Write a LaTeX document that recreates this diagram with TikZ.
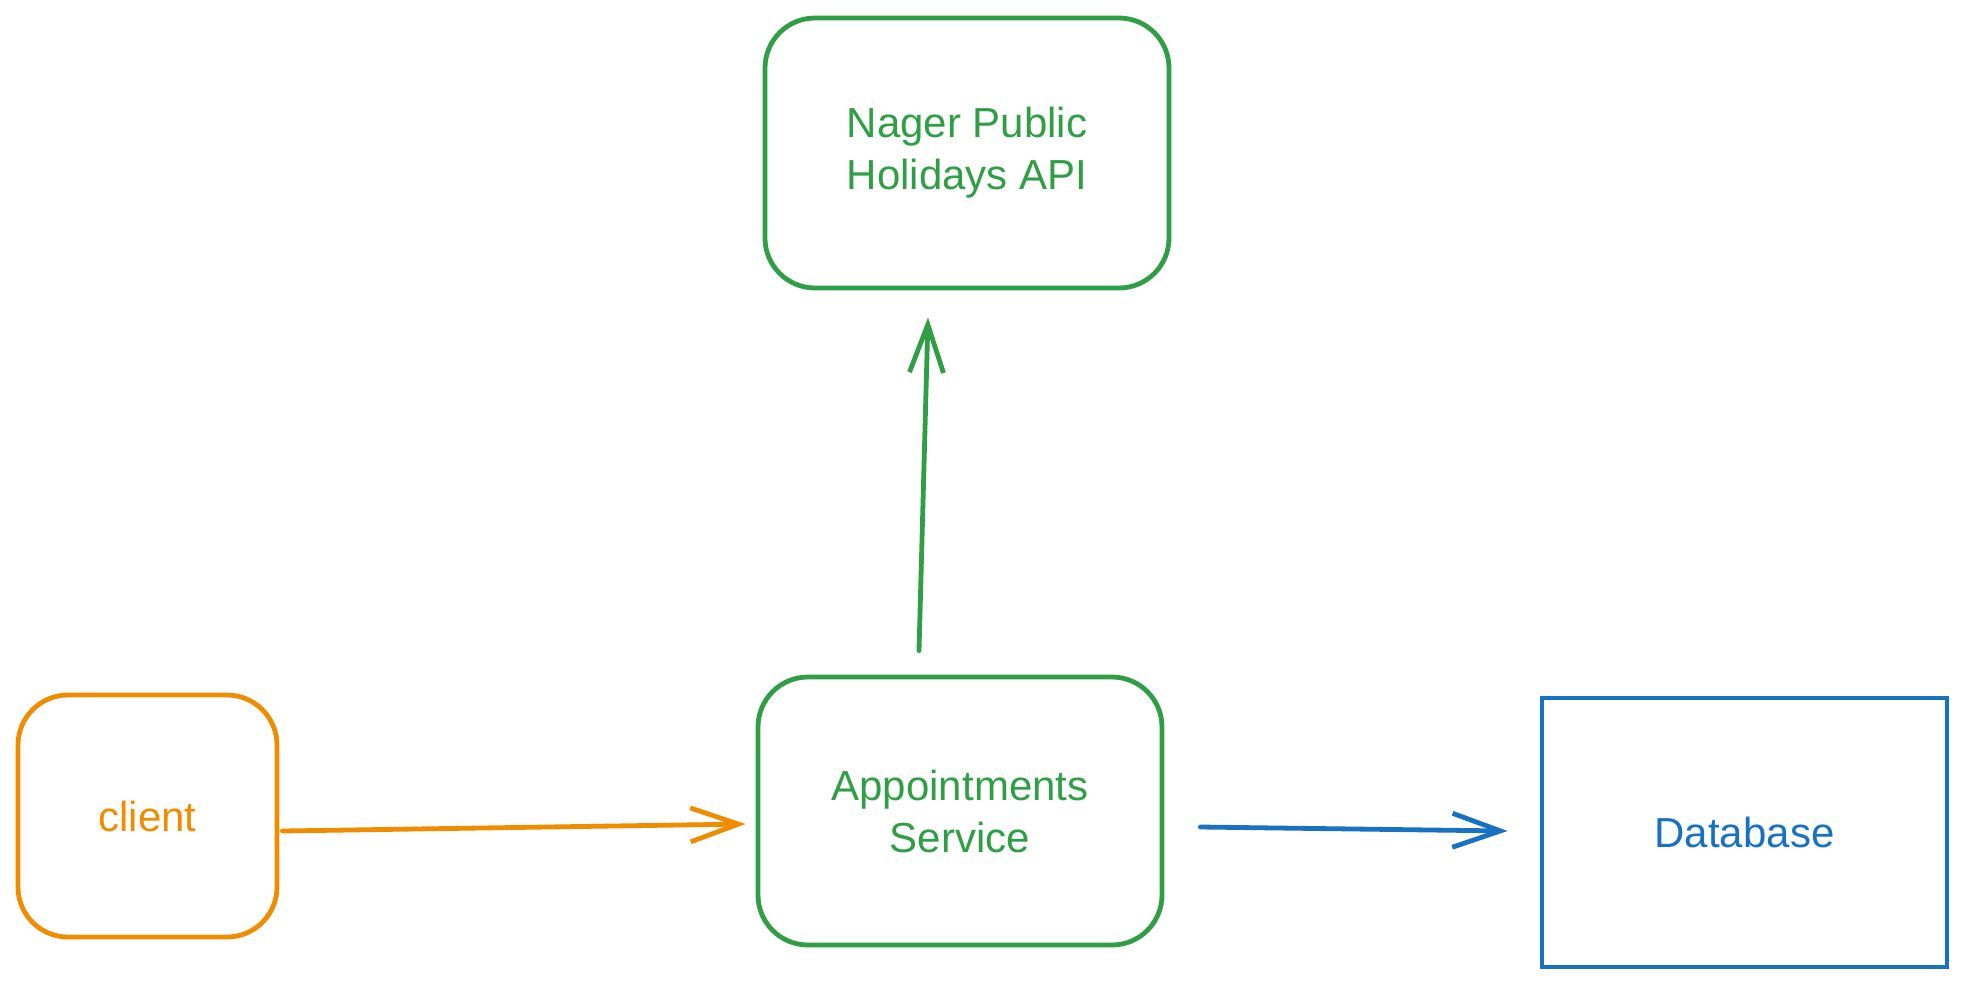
\documentclass[tikz,border=0pt]{standalone}
\usepackage{fontspec}
\setmainfont{Liberation Sans}
\usetikzlibrary{arrows.meta,calc}
\definecolor{exgreen}{HTML}{2F9E44}
\definecolor{exorange}{HTML}{F08C00}
\definecolor{exblue}{HTML}{1971C2}
\tikzset{
  box/.style={draw, line width=2.4pt, rounded corners=25pt, align=center,
    font=\fontsize{21}{26}\selectfont, inner sep=0pt},
  sqbox/.style={draw, line width=2.4pt, align=center,
    font=\fontsize{21}{26}\selectfont, inner sep=0pt},
  arr/.style={line width=2.4pt, line cap=round, line join=round,
    -{Straight Barb[length=24pt,width=17pt,line width=2.4pt]}}
}
\begin{document}
\begin{tikzpicture}[x=0.5pt,y=-0.5pt]
\useasboundingbox[fill=white] (0,0) rectangle (1966,987);
\node[box, color=exgreen, minimum width=202pt, minimum height=135pt] (nager) at (967,153) {Nager Public\\Holidays API};
\node[box, color=exgreen, minimum width=202pt, minimum height=134pt] (app) at (960,811) {Appointments\\Service};
\node[box, color=exorange, minimum width=129.5pt, minimum height=121pt] (client) at (147.5,816) {client};
\node[sqbox, color=exblue, minimum width=202.5pt, minimum height=134.5pt] (db) at (1744.5,832.5) {Database};
\draw[arr, exorange] ($(client.east)+(3,15)$) -- ($(app.west)+(-10,13)$);
\draw[arr, exgreen] ($(app.north)+(-41,-24)$) -- ($(nager.south)+(-39,27)$);
\draw[arr, exblue] ($(app.east)+(36,16)$) -- ($(db.west)+(-32,-1.5)$);
\end{tikzpicture}
\end{document}
